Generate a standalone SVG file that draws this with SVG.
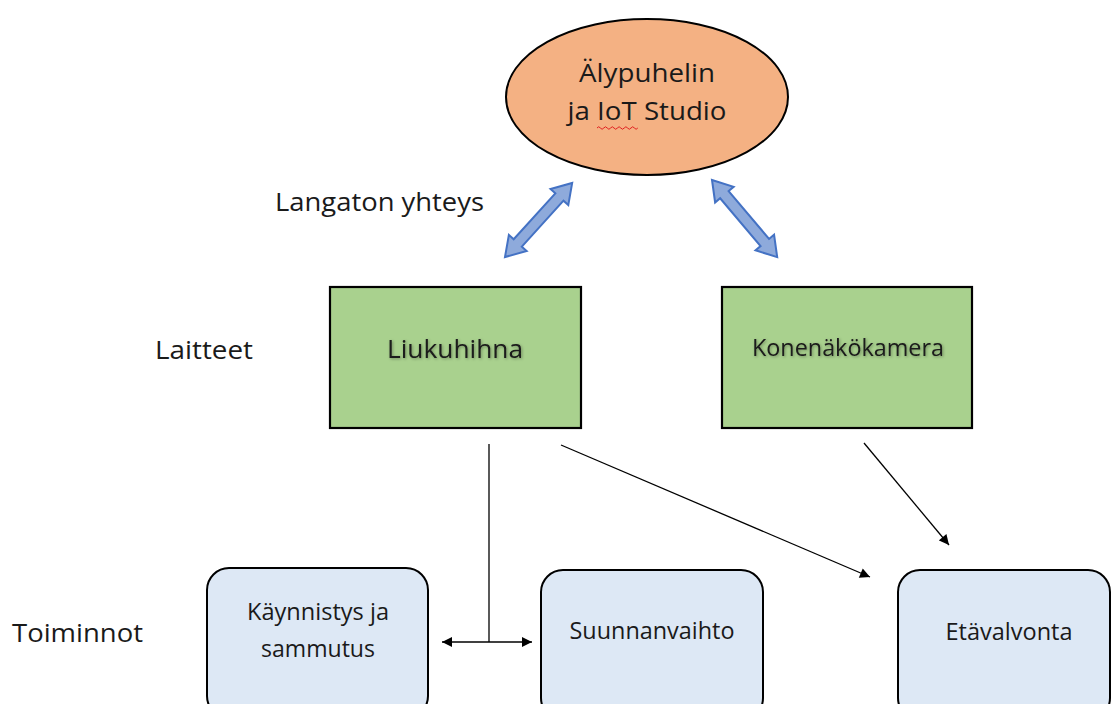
<svg xmlns="http://www.w3.org/2000/svg" width="1112" height="704" viewBox="0 0 1112 704">
  <style>
    text { font-family: "Open Sans", Lato, "Liberation Sans", sans-serif; fill: #1a1a1a; }
    .label { font-size: 25px; }
    .green { fill: #a9d18e; stroke: #000; stroke-width: 2.2; }
    .func { fill: #dde8f5; stroke: #000; stroke-width: 2; }
    .conn { stroke: #000; stroke-width: 1.3; fill: none; }
    .block { fill: #8eaadb; stroke: #4472c4; stroke-width: 2; stroke-linejoin: miter; }
  </style>
  <defs>
    <marker id="tip" viewBox="0 0 10 10" refX="10" refY="5" markerWidth="11" markerHeight="10" markerUnits="userSpaceOnUse" orient="auto-start-reverse">
      <path d="M0,0 L10,5 L0,10 Z" fill="#000"/>
    </marker>
    <filter id="glow" x="-10%" y="-30%" width="120%" height="160%">
      <feGaussianBlur in="SourceAlpha" stdDeviation="1.6" result="b"/>
      <feFlood flood-color="#000" flood-opacity="0.35"/>
      <feComposite in2="b" operator="in" result="s"/>
      <feOffset dx="0.5" dy="1" result="o"/>
      <feMerge><feMergeNode in="o"/><feMergeNode in="SourceGraphic"/></feMerge>
    </filter>
    <!-- double-headed block arrow along the x axis, length 100 -->
    <path id="dbl" d="M0,0 L19,-12 L19,-5.5 L81,-5.5 L81,-12 L100,0 L81,12 L81,5.5 L19,5.5 L19,12 Z"/>
  </defs>

  <!-- row labels -->
  <g id="row-labels">
    <text class="label" x="275" y="211" textLength="209" lengthAdjust="spacingAndGlyphs">Langaton yhteys</text>
    <text class="label" x="155" y="359" textLength="98" lengthAdjust="spacingAndGlyphs">Laitteet</text>
    <text class="label" x="12" y="642" textLength="131" lengthAdjust="spacingAndGlyphs">Toiminnot</text>
  </g>

  <!-- smartphone / IoT Studio -->
  <g id="smartphone">
    <ellipse cx="647" cy="97" rx="141" ry="78" fill="#f4b183" stroke="#000" stroke-width="2"/>
    <text x="647" y="82" font-size="26" text-anchor="middle" textLength="136" lengthAdjust="spacingAndGlyphs">Älypuhelin</text>
    <text x="647" y="120" font-size="26" text-anchor="middle" textLength="159" lengthAdjust="spacingAndGlyphs">ja IoT Studio</text>
    <!-- spell-check underline beneath "IoT" -->
    <path d="M597,128 q1.7,-2.5 3.4,0 t3.4,0 t3.4,0 t3.4,0 t3.4,0 t3.4,0 t3.4,0 t3.4,0 t3.4,0 t3.4,0 t3.4,0 t3.4,0" fill="none" stroke="#e02020" stroke-width="1"/>
  </g>

  <!-- wireless links -->
  <g id="wireless">
    <use href="#dbl" class="block" transform="translate(505,257) rotate(-47.8)"/>
    <use href="#dbl" class="block" transform="translate(712,180) rotate(49.8) scale(1.01)"/>
  </g>

  <!-- devices -->
  <g id="liukuhihna">
    <rect class="green" x="330" y="287" width="251" height="141"/>
    <text x="455" y="358" font-size="25" text-anchor="middle" textLength="136" lengthAdjust="spacingAndGlyphs" filter="url(#glow)">Liukuhihna</text>
  </g>
  <g id="konenakokamera">
    <rect class="green" x="722" y="287" width="250" height="141"/>
    <text x="848" y="356" font-size="23" text-anchor="middle" textLength="192" lengthAdjust="spacingAndGlyphs" filter="url(#glow)">Konenäkökamera</text>
  </g>

  <!-- functions -->
  <g id="kaynnistys">
    <rect class="func" x="207" y="568" width="221" height="150" rx="22"/>
    <text x="318" y="620" font-size="23" text-anchor="middle" textLength="142" lengthAdjust="spacingAndGlyphs">Käynnistys ja</text>
    <text x="318" y="657" font-size="23" text-anchor="middle" textLength="114" lengthAdjust="spacingAndGlyphs">sammutus</text>
  </g>
  <g id="suunnanvaihto">
    <rect class="func" x="541" y="570" width="222" height="150" rx="22"/>
    <text x="652" y="639" font-size="23" text-anchor="middle" textLength="165" lengthAdjust="spacingAndGlyphs">Suunnanvaihto</text>
  </g>
  <g id="etavalvonta">
    <rect class="func" x="898" y="570" width="212" height="150" rx="22"/>
    <text x="1009" y="640" font-size="23" text-anchor="middle" textLength="127" lengthAdjust="spacingAndGlyphs">Etävalvonta</text>
  </g>

  <!-- connectors -->
  <g id="connectors">
    <line class="conn" x1="489" y1="444" x2="489" y2="642"/>
    <line class="conn" x1="442" y1="642" x2="532" y2="642" marker-start="url(#tip)" marker-end="url(#tip)"/>
    <line class="conn" x1="561" y1="445" x2="870" y2="577" marker-end="url(#tip)"/>
    <line class="conn" x1="864" y1="443" x2="949" y2="545" marker-end="url(#tip)"/>
  </g>
</svg>
